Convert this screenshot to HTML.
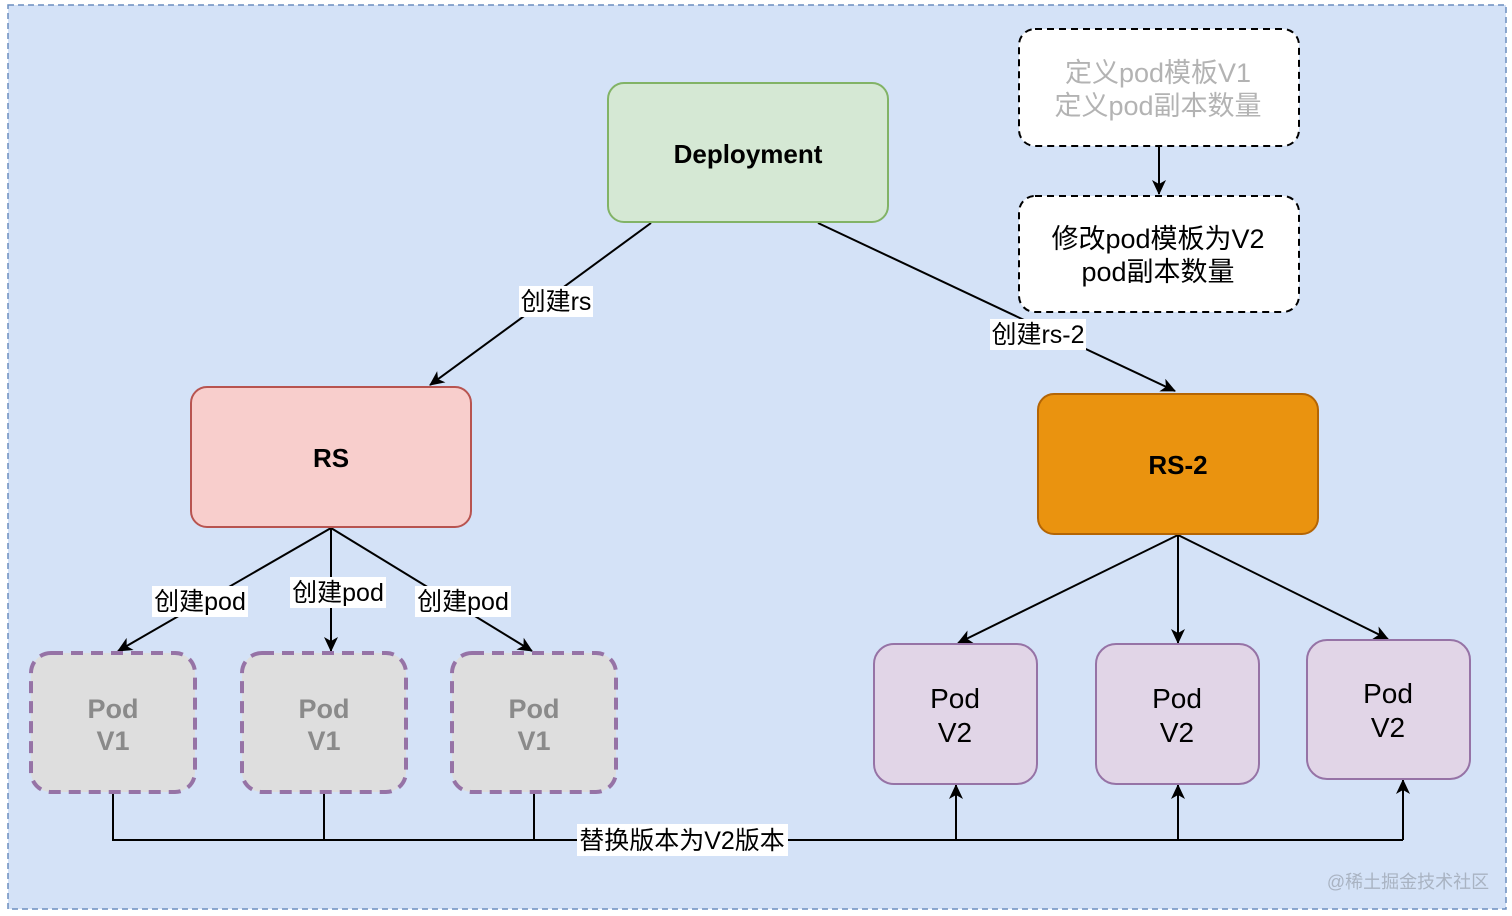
<!DOCTYPE html>
<html><head><meta charset="utf-8"><style>
html,body{margin:0;padding:0;background:#fff;}
svg{display:block;}
text{font-family:"Liberation Sans","Noto Sans CJK SC",sans-serif;}
</style></head><body>
<svg width="1512" height="916" viewBox="0 0 1512 916" xmlns="http://www.w3.org/2000/svg">
<defs>
<marker id="a" viewBox="0 0 16 16" markerWidth="16" markerHeight="16" refX="14" refY="8" orient="auto" markerUnits="userSpaceOnUse">
<path d="M0,1 L15,8 L0,15 L4,8 Z" fill="#000"/>
</marker>
</defs>
<rect x="8" y="5" width="1498" height="904" fill="#d4e2f7" stroke="#6c8ebf" stroke-width="1.5" stroke-dasharray="6,4"/>

<g stroke="#000" stroke-width="2" fill="none">
<line x1="651" y1="223" x2="430" y2="385" marker-end="url(#a)"/>
<line x1="818" y1="223" x2="1175" y2="391" marker-end="url(#a)"/>
<line x1="1159" y1="146" x2="1159" y2="194" marker-end="url(#a)"/>
<line x1="331" y1="528" x2="118" y2="651" marker-end="url(#a)"/>
<line x1="331" y1="528" x2="331" y2="651" marker-end="url(#a)"/>
<line x1="331" y1="528" x2="532" y2="651" marker-end="url(#a)"/>
<line x1="1178" y1="535" x2="958" y2="643" marker-end="url(#a)"/>
<line x1="1178" y1="535" x2="1178" y2="643" marker-end="url(#a)"/>
<line x1="1178" y1="535" x2="1388" y2="639" marker-end="url(#a)"/>
<polyline points="113,793 113,840 1403,840"/>
<line x1="324" y1="793" x2="324" y2="840"/>
<line x1="534" y1="793" x2="534" y2="840"/>
<line x1="956" y1="840" x2="956" y2="785" marker-end="url(#a)"/>
<line x1="1178" y1="840" x2="1178" y2="785" marker-end="url(#a)"/>
<line x1="1403" y1="840" x2="1403" y2="780" marker-end="url(#a)"/>
</g>

<rect x="608" y="83" width="280" height="139" rx="16" fill="#d5e8d4" stroke="#82b366" stroke-width="2"/>
<text x="748" y="163" font-size="26" font-weight="bold" text-anchor="middle">Deployment</text>

<rect x="1019" y="29" width="280" height="117" rx="16" fill="#fff" stroke="#000" stroke-width="2" stroke-dasharray="7,5"/>
<text x="1158" y="82" font-size="27" fill="#b3b3b3" text-anchor="middle">定义pod模板V1</text>
<text x="1158" y="115" font-size="27" fill="#b3b3b3" text-anchor="middle">定义pod副本数量</text>

<rect x="1019" y="196" width="280" height="116" rx="16" fill="#fff" stroke="#000" stroke-width="2" stroke-dasharray="7,5"/>
<text x="1158" y="248" font-size="27" text-anchor="middle">修改pod模板为V2</text>
<text x="1158" y="281" font-size="27" text-anchor="middle">pod副本数量</text>

<rect x="191" y="387" width="280" height="140" rx="16" fill="#f8cecc" stroke="#b85450" stroke-width="2"/>
<text x="331" y="467" font-size="26" font-weight="bold" text-anchor="middle">RS</text>

<rect x="1038" y="394" width="280" height="140" rx="16" fill="#ea930f" stroke="#b46504" stroke-width="2"/>
<text x="1178" y="474" font-size="26" font-weight="bold" text-anchor="middle">RS-2</text>

<g fill="#dedede" stroke="#9673a6" stroke-width="4" stroke-dasharray="12,8">
<rect x="31" y="653" width="164" height="139" rx="20"/>
<rect x="242" y="653" width="164" height="139" rx="20"/>
<rect x="452" y="653" width="164" height="139" rx="20"/>
</g>
<g font-size="27" font-weight="bold" fill="#8a8a8a" text-anchor="middle">
<text x="113" y="718">Pod</text><text x="113" y="750">V1</text>
<text x="324" y="718">Pod</text><text x="324" y="750">V1</text>
<text x="534" y="718">Pod</text><text x="534" y="750">V1</text>
</g>

<g fill="#e1d5e7" stroke="#9673a6" stroke-width="2">
<rect x="874" y="644" width="163" height="140" rx="20"/>
<rect x="1096" y="644" width="163" height="140" rx="20"/>
<rect x="1307" y="640" width="163" height="139" rx="20"/>
</g>
<g font-size="28" text-anchor="middle">
<text x="955" y="708">Pod</text><text x="955" y="742">V2</text>
<text x="1177" y="708">Pod</text><text x="1177" y="742">V2</text>
<text x="1388" y="703">Pod</text><text x="1388" y="737">V2</text>
</g>

<g font-size="25" text-anchor="middle">
<rect x="519" y="286" width="74" height="31" fill="#fff"/><text x="556" y="310">创建rs</text>
<rect x="990" y="319" width="96" height="31" fill="#fff"/><text x="1038" y="343">创建rs-2</text>
<rect x="152" y="586" width="96" height="31" fill="#fff"/><text x="200" y="610">创建pod</text>
<rect x="290" y="577" width="96" height="31" fill="#fff"/><text x="338" y="601">创建pod</text>
<rect x="415" y="586" width="96" height="31" fill="#fff"/><text x="463" y="610">创建pod</text>
<rect x="577" y="824" width="211" height="32" fill="#fff"/><text x="682" y="849">替换版本为V2版本</text>
</g>
<text x="1408" y="888" font-size="18" fill="#a9b3c2" text-anchor="middle">@稀土掘金技术社区</text>
</svg>
</body></html>
